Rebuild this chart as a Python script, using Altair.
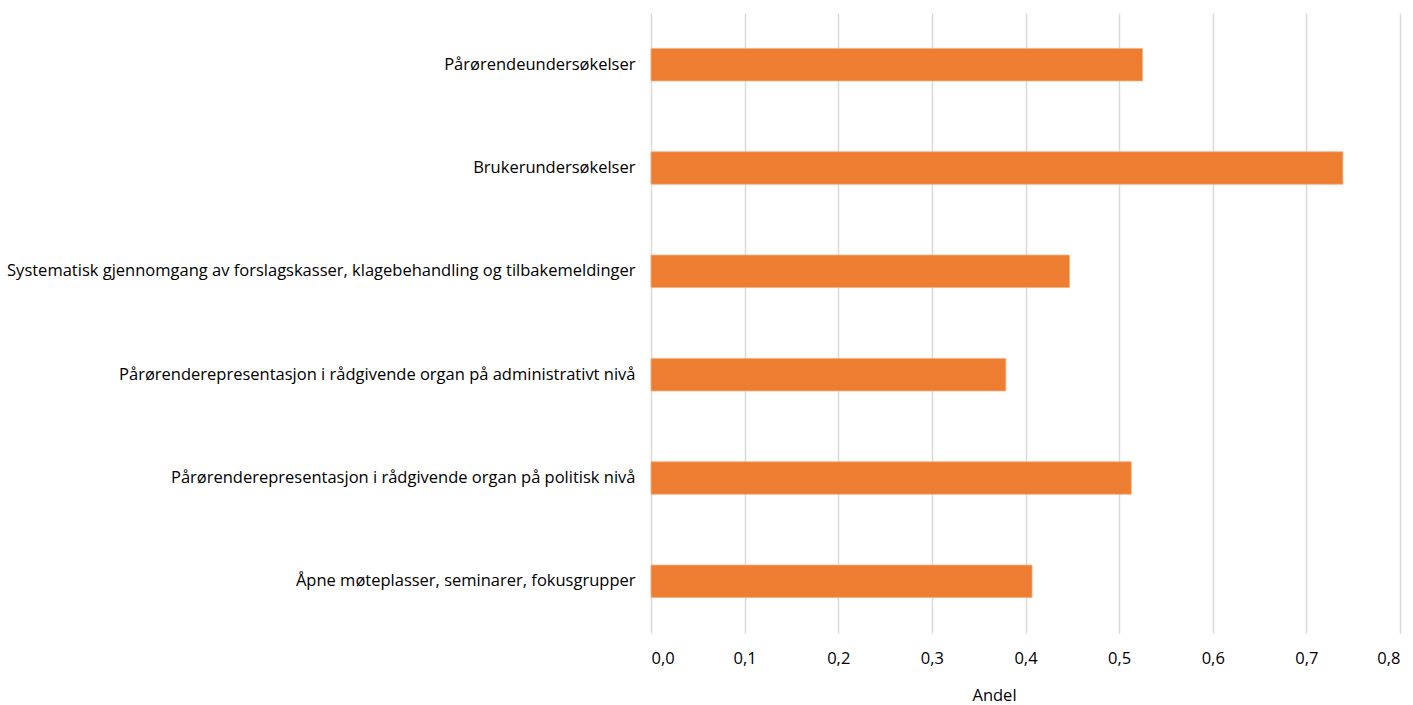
import altair as alt
import pandas as pd

# Share of respondents using each channel for involving relatives
kategorier = [
    "Pårørendeundersøkelser",
    "Brukerundersøkelser",
    "Systematisk gjennomgang av forslagskasser, klagebehandling og tilbakemeldinger",
    "Pårørenderepresentasjon i rådgivende organ på administrativt nivå",
    "Pårørenderepresentasjon i rådgivende organ på politisk nivå",
    "Åpne møteplasser, seminarer, fokusgrupper",
]
andel = [0.525, 0.739, 0.447, 0.379, 0.513, 0.407]

df = pd.DataFrame({"kategori": kategorier, "andel": andel})

FONT = "Open Sans"
SIZE = 16.5

chart = (
    alt.Chart(df)
    .mark_bar(color="#ED7D31", stroke="#F5B183", strokeWidth=0.8)
    .encode(
        y=alt.Y(
            "kategori:N",
            sort=kategorier,
            title=None,
            scale=alt.Scale(paddingInner=0.685, paddingOuter=0.3425),
            axis=alt.Axis(
                domain=False,
                ticks=False,
                grid=False,
                labelFont=FONT,
                labelFontSize=SIZE,
                labelColor="#000000",
                labelPadding=16,
                labelLimit=700,
            ),
        ),
        x=alt.X(
            "andel:Q",
            title="Andel",
            scale=alt.Scale(domain=[0, 0.8], nice=False),
            axis=alt.Axis(
                values=[0, 0.1, 0.2, 0.3, 0.4, 0.5, 0.6, 0.7, 0.8],
                labelExpr="replace(format(datum.value, '.1f'), '.', ',')",
                domain=False,
                ticks=False,
                grid=True,
                gridColor="#D9D9D9",
                gridWidth=1.5,
                labelFont=FONT,
                labelFontSize=SIZE,
                labelColor="#000000",
                labelPadding=17,
                titleFont=FONT,
                titleFontSize=SIZE,
                titleFontWeight="normal",
                titleColor="#000000",
                titlePadding=21,
                titleX=343,
                titleAlign="center",
            ),
        ),
    )
    .properties(
        width=749,
        height=620,
        autosize=alt.AutoSizeParams(type="none"),
        padding={"left": 651, "top": 13, "right": 13, "bottom": 72},
    )
    .configure(background="#FFFFFF")
    .configure_view(stroke=None, strokeWidth=0)
)

chart.save("out.html", embed_options={"renderer": "svg", "actions": False})
